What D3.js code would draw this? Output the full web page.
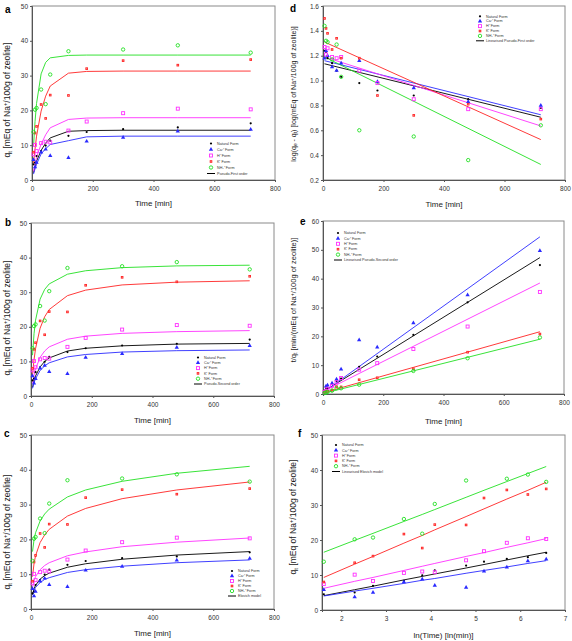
<!DOCTYPE html>
<html><head><meta charset="utf-8">
<script src="https://cdn.jsdelivr.net/npm/d3@7"></script>
<style>body{margin:0;background:#fff}svg{font-family:"Liberation Sans",Arial,sans-serif}</style>
</head><body>
<svg id="chart" width="572" height="641"></svg>
<script>
// ---------- data ----------
const times = [5,10,15,30,45,60,120,180,300,480,720];
const lnTimes = [1.61,2.30,2.71,3.40,3.81,4.09,4.79,5.19,5.70,6.17,6.58];
const fitEnds = [5,720];
const seriesNames = ["Natural Form","Ca\u00B2\u207A Form","H\u207A Form","K\u207A Form","NH\u2084\u207A Form"];

// measured uptake q_t
const qNatural = [4.5,5.0,6.9,8.3,9.9,11.3,12.7,13.8,14.6,15.1,16.3];
const qCa      = [5.8,3.7,5.0,8.0,8.8,7.0,6.4,11.1,12.2,14.0,14.5];
const qH       = [7.4,10.1,8.3,10.6,11.0,10.8,14.2,16.8,19.2,20.5,20.3];
const qK       = [8.0,13.5,15.4,21.7,17.7,24.4,24.3,32.0,34.3,33.0,34.6];
const qNH4     = [13.8,20.2,20.7,26.0,21.8,30.3,37.0,null,37.5,38.7,36.6];

// log(qe - qt)
const logNatural = [1.24,1.23,1.18,1.14,1.08,1.03,0.98,0.92,0.88,0.85,0.78];
const logCa      = [1.18,1.24,1.20,1.11,1.08,1.14,1.16,0.99,0.94,0.83,0.80];
const logH       = [1.27,1.21,1.26,1.19,1.18,1.19,1.08,0.98,0.85,0.77,0.77];
const logK       = [1.50,1.42,1.38,1.25,1.34,1.18,1.18,0.88,0.72,0.81,0.69];
const logNH4     = [1.44,1.32,1.31,1.17,1.29,1.03,0.60,null,0.55,0.36,0.64];

// t / q_t
const tqNatural = [1.11,2.00,2.17,3.61,4.55,5.31,9.45,13.0,20.5,31.8,44.7];
const tqCa      = [0.86,2.70,3.00,3.75,5.11,8.57,18.7,16.2,24.6,34.3,49.7];
const tqH       = [0.68,0.99,1.81,2.83,4.09,5.56,8.45,10.7,15.6,23.4,35.4];
const tqK       = [0.63,0.74,0.97,1.38,2.54,2.46,4.94,5.63,8.75,14.5,20.8];
const tqNH4     = [0.36,0.50,0.72,1.15,2.06,1.98,3.24,null,8.0,12.4,19.6];

// pseudo-first-order fitted curves (at times)
const pfoNatural = [2.1,3.8,5.4,8.5,10.6,12.1,14.0,14.2,14.3,14.3,14.3];
const pfoCa      = [1.7,3.2,4.5,7.5,9.0,10.2,11.3,12.4,12.6,12.6,12.6];
const pfoH       = [2.5,4.6,6.6,10.3,13.0,15.0,17.4,17.8,17.9,17.9,17.9];
const pfoK       = [4.8,8.9,12.6,19.8,24.1,27.0,30.7,31.2,31.3,31.3,31.3];
const pfoNH4     = [9.7,16.8,22.0,30.5,33.8,35.1,35.8,35.9,35.9,35.9,35.9];

// pseudo-second-order fitted curves (at times)
const psoNatural = [2.5,4.4,5.8,8.4,10.0,11.0,13.0,13.8,14.5,15.0,15.2];
const psoCa      = [2.2,3.8,5.0,7.4,8.7,9.6,11.3,12.0,12.7,13.1,13.3];
const psoH       = [3.6,6.0,7.8,11.2,13.0,14.2,16.4,17.3,18.1,18.6,18.9];
const psoK       = [6.2,10.5,13.7,19.6,22.9,25.0,29.0,30.6,32.1,32.9,33.3];
const psoNH4     = [11.8,18.0,21.9,28.0,30.8,32.4,35.2,36.2,37.1,37.6,37.8];

// Elovich fitted values (at times / lnTimes)
const eloNatural = [4.1,5.8,6.8,8.6,9.6,10.3,12.0,13.0,14.3,15.5,16.5];
const eloCa      = [4.0,5.4,6.2,7.6,8.5,9.0,10.5,11.3,12.3,13.3,14.1];
const eloH       = [6.2,8.2,9.3,11.3,12.5,13.3,15.3,16.4,17.9,19.2,20.4];
const eloK       = [9.3,13.1,15.3,19.1,21.3,22.9,26.7,28.9,31.7,34.2,36.5];
const eloNH4     = [16.5,19.9,21.9,25.3,27.3,28.7,32.2,34.2,36.7,39.0,41.0];

// linearised pseudo-first-order (at fitEnds)
const linPfoNatural = [1.135,0.705];
const linPfoCa      = [1.16,0.725];
const linPfoH       = [1.19,0.635];
const linPfoK       = [1.31,0.525];
const linPfoNH4     = [1.19,0.325];

// linearised pseudo-second-order (at fitEnds)
const linPsoNatural = [1.1,47.3];
const linPsoCa      = [0.9,54.5];
const linPsoH       = [1.1,38.5];
const linPsoK       = [0.55,21.6];
const linPsoNH4     = [0.3,19.0];

const timeTicks = [0,200,400,600,800];
const qTicks = [0,10,20,30,40,50];
const logTicks = [0.2,0.4,0.6,0.8,1.0,1.2,1.4,1.6];
const tqTicks = [0,10,20,30,40,50,60];
const lnTicks = [2,3,4,5,6,7];

// ---------- drawing ----------
const colors = ["#000000","#2a2aff","#ff30ff","#ff2424","#22e022"];
const svg = d3.select("#chart");

function marker(g, i, x, y) {
  const c = colors[i];
  if (i === 0) g.append("circle").attr("cx",x).attr("cy",y).attr("r",1.1).attr("fill",c);
  else if (i === 1) g.append("path").attr("d", d3.symbol().type(d3.symbolTriangle).size(8)()).attr("transform",`translate(${x},${y})`).attr("fill",c);
  else if (i === 2) g.append("rect").attr("x",x-1.5).attr("y",y-1.5).attr("width",3).attr("height",3).attr("fill","none").attr("stroke",c).attr("stroke-width",0.9);
  else if (i === 3) { g.append("rect").attr("x",x-1.3).attr("y",y-1.3).attr("width",2.6).attr("height",2.6).attr("fill",c); g.append("rect").attr("x",x-0.45).attr("y",y-0.45).attr("width",0.9).attr("height",0.9).attr("fill","#ff9a9a"); }
  else g.append("circle").attr("cx",x).attr("cy",y).attr("r",1.7).attr("fill","none").attr("stroke",c).attr("stroke-width",0.9);
}

function richText(t, parts) {
  parts.forEach(p => {
    const s = t.append("tspan").text(p[0]);
    if (p[1] === "sub") s.attr("font-size","0.7em").attr("baseline-shift","-25%");
    if (p[1] === "sup") s.attr("font-size","0.7em").attr("baseline-shift","45%");
  });
}

function panel(o) {
  const g = svg.append("g");
  const x = d3.scaleLinear().domain(o.xDomain).range([o.x0, o.x1]);
  const y = d3.scaleLinear().domain(o.yDomain).range([o.y1, o.y0]);
  g.append("rect").attr("x",o.x0).attr("y",o.y0).attr("width",o.x1-o.x0).attr("height",o.y1-o.y0)
    .attr("fill","none").attr("stroke","#8a8a8a").attr("stroke-width",1);
  const xa = g.append("g").attr("transform",`translate(0,${o.y1})`)
    .call(d3.axisBottom(x).tickValues(o.xTicks).tickSize(2).tickPadding(4).tickFormat(o.xFmt || d3.format("d")));
  const ya = g.append("g").attr("transform",`translate(${o.x0},0)`)
    .call(d3.axisLeft(y).tickValues(o.yTicks).tickSize(2).tickPadding(2).tickFormat(o.yFmt || d3.format("d")));
  [xa, ya].forEach(a => {
    a.select(".domain").attr("stroke","#555");
    a.selectAll(".tick line").attr("stroke","#555");
    a.selectAll(".tick text").attr("font-size","6.5px").attr("fill","#333").attr("font-family","Liberation Sans, Arial, sans-serif");
  });
  const line = d3.line().x(d => x(d[0])).y(d => y(d[1]));
  o.fits.forEach((f, i) => {
    g.append("path").attr("d", line(o.fitX.map((t, k) => [t, f[k]])))
      .attr("fill","none").attr("stroke",colors[i]).attr("stroke-width",0.9);
  });
  o.points.forEach((s, i) => {
    s.forEach((v, k) => { if (v !== null) marker(g, i, x(o.ptX[k]), y(v)); });
  });
  const L = o.legend;
  seriesNames.concat([o.fitName]).forEach((nm, i) => {
    const ly = L.y + i * L.dy;
    if (i < 5) marker(g, i, L.x, ly);
    else g.append("line").attr("x1",L.x-4).attr("x2",L.x+4).attr("y1",ly).attr("y2",ly).attr("stroke","#000").attr("stroke-width",1);
    g.append("text").attr("x",L.x+6).attr("y",ly+1.2).attr("font-size","3.7px").attr("fill","#333").text(nm);
  });
  g.append("text").attr("x",o.letter[1]).attr("y",o.letter[2]).attr("font-size","10px").attr("font-weight","bold").text(o.letter[0]);
  g.append("text").attr("x",(o.x0+o.x1)/2).attr("y",o.xlabelY).attr("text-anchor","middle")
    .attr("font-size","8px").attr("fill","#222").text(o.xlabel);
  const yl = g.append("text").attr("transform",`translate(${o.ylabel.x},${o.ylabel.y}) rotate(-90)`)
    .attr("text-anchor","middle").attr("font-size",o.ylabel.size+"px").attr("fill","#222");
  richText(yl, o.ylabel.parts);
}

const qLabel = [["q",""],["t","sub"],[" [mEq of Na",""],["+","sup"],["/100g of zeolite]",""]];

panel({x0:32,x1:275,y0:6,y1:180,xDomain:[0,800],yDomain:[0,50],xTicks:timeTicks,yTicks:qTicks,
  points:[qNatural,qCa,qH,qK,qNH4],ptX:times,fits:[pfoNatural,pfoCa,pfoH,pfoK,pfoNH4],fitX:times,
  fitName:"Pseudo-First order",legend:{x:211,y:143.5,dy:6},letter:["a",5,13],
  xlabel:"Time [min]",xlabelY:206,ylabel:{x:10,y:100,size:8.5,parts:qLabel}});

panel({x0:31,x1:274,y0:223,y1:396,xDomain:[0,800],yDomain:[0,50],xTicks:timeTicks,yTicks:qTicks,
  points:[qNatural,qCa,qH,qK,qNH4],ptX:times,fits:[psoNatural,psoCa,psoH,psoK,psoNH4],fitX:times,
  fitName:"Pseudo-Second order",legend:{x:198,y:357.5,dy:5.3},letter:["b",5,226],
  xlabel:"Time [min]",xlabelY:423,ylabel:{x:10,y:318,size:8.5,parts:qLabel}});

panel({x0:31,x1:274,y0:435,y1:609,xDomain:[0,800],yDomain:[0,50],xTicks:timeTicks,yTicks:qTicks,
  points:[qNatural,qCa,qH,qK,qNH4],ptX:times,fits:[eloNatural,eloCa,eloH,eloK,eloNH4],fitX:times,
  fitName:"Elovich model",legend:{x:232,y:571,dy:5},letter:["c",4,437],
  xlabel:"Time [min]",xlabelY:636,ylabel:{x:10,y:532,size:8.5,parts:qLabel}});

panel({x0:323,x1:565,y0:6,y1:180,xDomain:[0,800],yDomain:[0.2,1.6],xTicks:timeTicks,yTicks:logTicks,yFmt:d3.format(".1f"),
  points:[logNatural,logCa,logH,logK,logNH4],ptX:times,fits:[linPfoNatural,linPfoCa,linPfoH,linPfoK,linPfoNH4],fitX:fitEnds,
  fitName:"Linearised Pseudo-First order",legend:{x:480,y:16.3,dy:4.9},letter:["d",290,12],
  xlabel:"Time [min]",xlabelY:207,
  ylabel:{x:296,y:94,size:7,parts:[["log(q",""],["e","sub"],[" - q",""],["t","sub"],[") [log(mEq of Na",""],["+","sup"],["/100g of zeolite)]",""]]}});

panel({x0:323,x1:564,y0:221,y1:394,xDomain:[0,800],yDomain:[0,60],xTicks:timeTicks,yTicks:tqTicks,
  points:[tqNatural,tqCa,tqH,tqK,tqNH4],ptX:times,fits:[linPsoNatural,linPsoCa,linPsoH,linPsoK,linPsoNH4],fitX:fitEnds,
  fitName:"Linearised Pseudo-Second order",legend:{x:338,y:233,dy:5.4},letter:["e",300,225],
  xlabel:"Time [min]",xlabelY:424,
  ylabel:{x:296,y:300,size:7.5,parts:[["t/q",""],["t","sub"],[" [min/(mEq of Na",""],["+","sup"],["/100g of zeolite)]",""]]}});

panel({x0:322,x1:565,y0:435,y1:610,xDomain:[1.57,7],yDomain:[0,50],xTicks:lnTicks,yTicks:qTicks,
  points:[qNatural,qCa,qH,qK,qNH4],ptX:lnTimes,fits:[eloNatural,eloCa,eloH,eloK,eloNH4],fitX:lnTimes,
  fitName:"Linearised Elovich model",legend:{x:336,y:445,dy:5.3},letter:["f",298,437],
  xlabel:"ln(Time) [ln(min)]",xlabelY:638,ylabel:{x:296,y:517,size:8.5,parts:qLabel}});
</script>
</body></html>
